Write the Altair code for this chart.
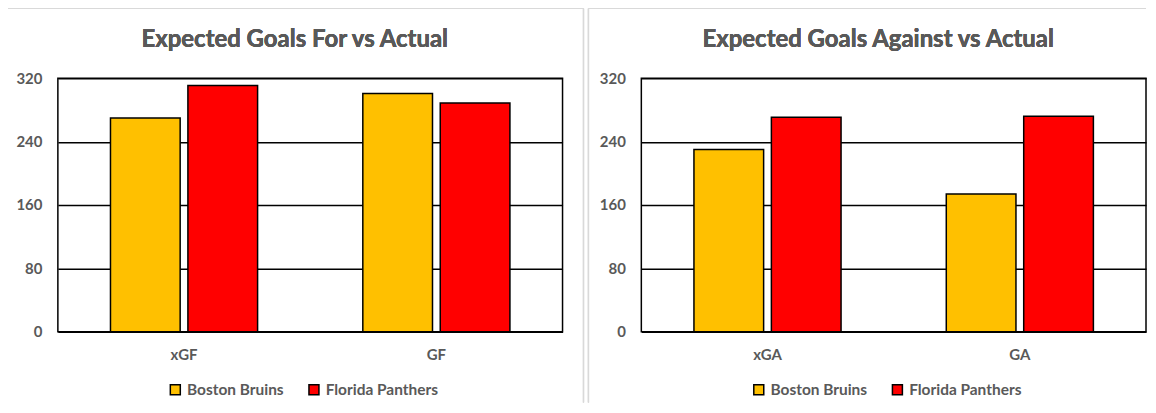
import altair as alt
import pandas as pd

teams = ["Boston Bruins", "Florida Panthers"]
team_colors = ["#FFC000", "#FF0000"]
left_cats = ["xGF", "GF"]
left_boston = [270, 301]
left_florida = [311, 289]
right_cats = ["xGA", "GA"]
right_boston = [230, 174]
right_florida = [271, 272]
y_ticks = [0, 80, 160, 240, 320]
titles = ["Expected Goals For vs Actual", "Expected Goals Against vs Actual"]

FONT = "Lato"
GREY = "#595959"
BORDER = "#d9d9d9"
W, H = 506, 254


def make_df(cats, b, f):
    rows = []
    for c, bv, fv in zip(cats, b, f):
        rows.append({"cat": c, "team": teams[0], "value": bv})
        rows.append({"cat": c, "team": teams[1], "value": fv})
    return pd.DataFrame(rows)


def rule(df, x, x2, y, y2):
    return alt.Chart(df).mark_rule(color=BORDER, strokeWidth=1.2, clip=False).encode(
        x=alt.value(x), x2=alt.value(x2), y=alt.value(y), y2=alt.value(y2)
    )


def panel(df, cats, title, left_x, right_x, draw_right):
    bars = alt.Chart(df).mark_bar(stroke="black", strokeWidth=1.5).encode(
        x=alt.X(
            "cat:N", sort=cats, title=None,
            scale=alt.Scale(paddingInner=0.417, paddingOuter=0.2085),
            axis=alt.Axis(labelAngle=0, ticks=False, domain=False, grid=False,
                          labelPadding=16, labelFontSize=15, labelColor=GREY,
                          labelFont=FONT, labelFontWeight="bold"),
        ),
        xOffset=alt.XOffset("team:N", sort=teams, scale=alt.Scale(paddingInner=0.1)),
        y=alt.Y(
            "value:Q", title=None,
            scale=alt.Scale(domain=[0, 320], nice=False),
            axis=alt.Axis(values=y_ticks, ticks=False, domain=False, grid=True,
                          gridColor="black", gridWidth=1.5, gridOpacity=1,
                          labelPadding=16, labelFontSize=15, labelColor=GREY,
                          labelFont=FONT, labelFontWeight="bold"),
        ),
        color=alt.Color(
            "team:N", sort=teams,
            scale=alt.Scale(domain=teams, range=team_colors),
            legend=alt.Legend(orient="none", legendX=110, legendY=304,
                              direction="horizontal", title=None,
                              symbolType="square", symbolSize=100,
                              symbolStrokeColor="black", symbolStrokeWidth=1.5,
                              labelFontSize=15.5, labelColor=GREY, labelFont=FONT,
                              labelFontWeight="bold", columnPadding=21,
                              labelOffset=4),
        ),
    )
    layers = [
        rule(df, left_x, left_x, -70, 325),
        rule(df, left_x, right_x, -70, -70),
    ]
    if draw_right:
        layers.append(rule(df, right_x, right_x, -70, 325))
    head = alt.Chart(df).mark_text(
        fontSize=24, fontWeight="bold", color=GREY, font=FONT,
        align="center", baseline="alphabetic", clip=False
    ).encode(
        x=alt.value(237.5), y=alt.value(-31), text=alt.value(title),
    )
    return alt.layer(*layers, bars, head).properties(width=W, height=H)


left = panel(make_df(left_cats, left_boston, left_florida), left_cats, titles[0], -52, 527, True)
right = panel(make_df(right_cats, right_boston, right_florida), right_cats, titles[1], -53, W, False)

chart = alt.hconcat(left, right, spacing=1).resolve_legend(color="independent").configure_view(
    stroke="black", strokeWidth=1.5
).properties(padding={"left": -4, "top": -2, "right": 0, "bottom": 0}, background="white")

chart.save("out.html", embed_options={"renderer": "svg", "actions": False})
